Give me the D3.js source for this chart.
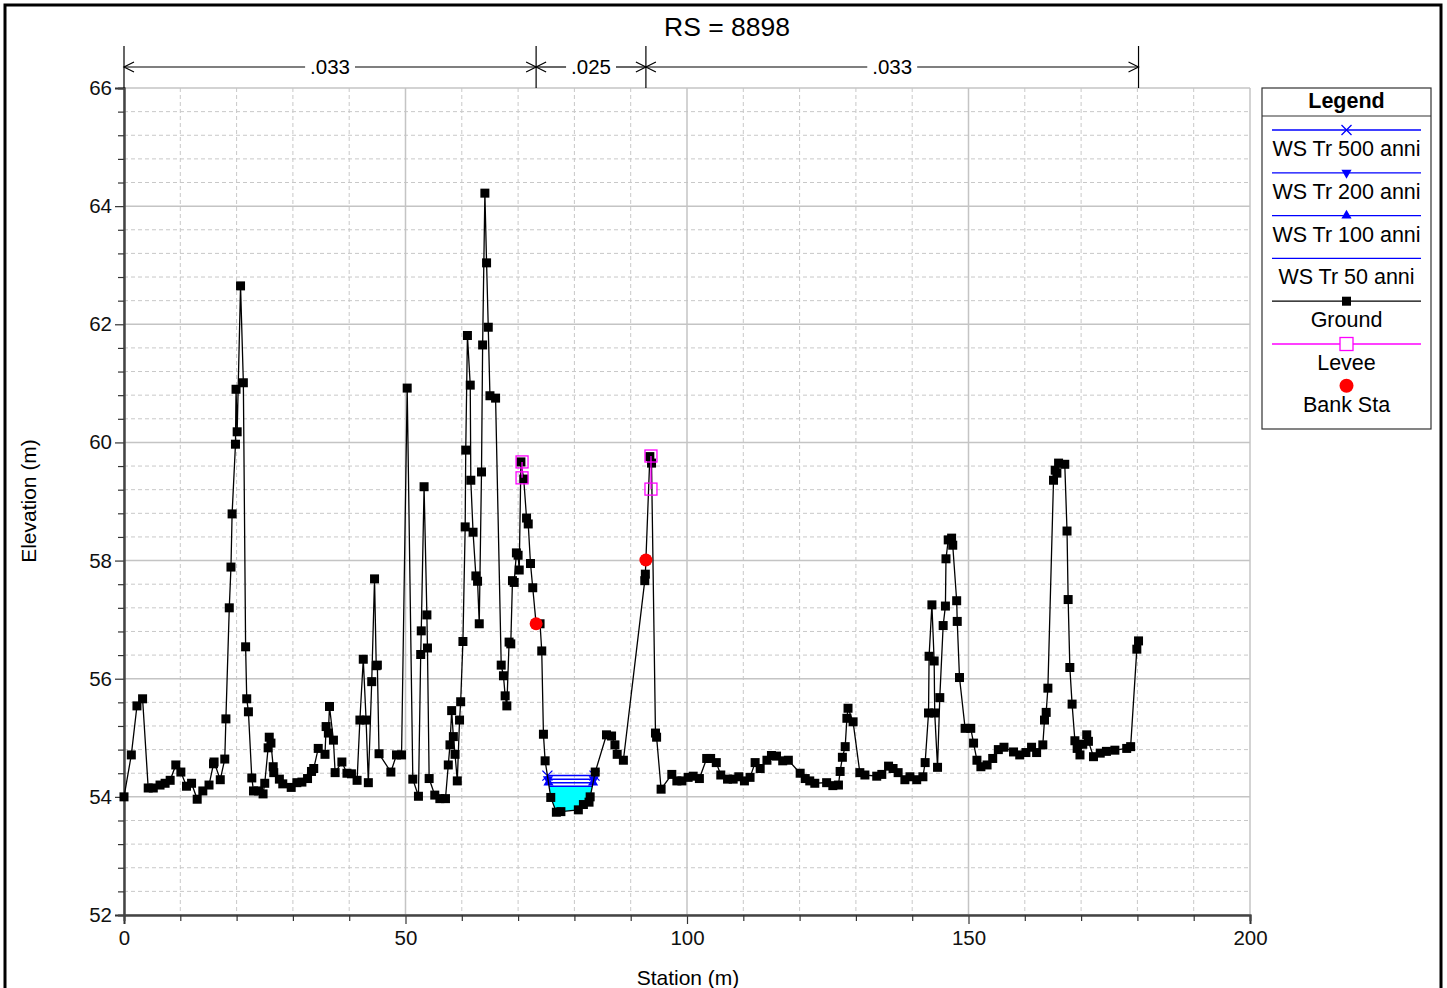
<!DOCTYPE html>
<html>
<head>
<meta charset="utf-8">
<script src="https://cdn.jsdelivr.net/npm/d3@7"></script>
<style>
  body { margin: 0; background: #fff; }
  svg { display: block; font-family: "Liberation Sans", Arial, sans-serif; }
</style>
</head>
<body>
<svg id="chart" width="1447" height="988"></svg>
<script>
// ---- data ----
const groundStation = [0,1.3,2.3,3.3,4.3,5.2,6.4,7.3,8.2,9.2,10.1,11.1,12.0,13.0,14.0,15.1,15.9,16.0,17.1,17.9,
  18.1,18.7,19.0,19.2,19.8,19.9,20.1,20.7,21.2,21.6,21.8,22.1,22.7,23.0,23.9,24.7,25.0,25.6,25.8,26.1,
  26.5,26.6,27.6,28.2,29.7,30.7,31.6,32.6,33.3,33.7,34.5,35.7,35.9,36.3,36.5,37.2,37.5,38.7,39.6,40.4,
  41.4,41.9,42.5,43.0,43.4,44.0,44.5,44.8,45.0,45.3,47.4,48.4,49.3,50.3,51.3,52.3,52.7,52.8,53.3,53.8,
  53.9,54.2,55.2,56.1,57.1,57.6,57.9,58.2,58.5,58.8,59.2,59.6,59.8,60.2,60.6,60.7,61.0,61.5,61.6,62.0,
  62.5,62.8,63.1,63.5,63.7,64.1,64.4,64.7,65.0,66.0,67.0,67.4,67.7,68.0,68.4,68.7,69.0,69.3,69.7,70.0,
  70.2,70.5,71.0,71.5,71.8,72.2,72.6,73.2,73.9,74.2,74.5,74.8,75.8,76.8,77.6,80.7,81.6,82.6,82.8,83.7,
  85.7,86.6,87.2,87.6,88.7,92.5,92.6,92.7,93.4,93.7,94.4,94.6,95.4,97.3,98.2,99.1,100.2,101.1,102.2,103.5,
  104.2,105.2,106.0,107.2,108.2,109.2,110.2,111.2,112.1,113.0,114.2,115.0,115.9,117.0,118.0,120.1,121.0,121.8,122.7,124.8,
  125.9,126.9,127.2,127.6,128.1,128.4,128.6,129.5,130.7,131.6,133.7,134.6,135.8,136.6,137.5,138.7,139.6,140.8,141.9,142.3,
  142.9,143.0,143.5,143.9,144.0,144.5,144.9,145.5,145.9,146.0,146.4,147.0,147.2,147.9,148.0,148.4,149.4,150.4,150.9,151.5,
  152.2,153.3,154.3,155.3,156.3,158.0,159.1,160.2,161.2,162.1,163.2,163.5,163.8,164.1,165.1,165.4,165.7,166.0,167.1,167.5,
  167.7,168.0,168.4,168.9,169.3,169.8,170.3,171.0,171.3,172.2,173.4,174.5,176.0,178.1,178.8,179.9,180.2];
const groundElev = [54.00,54.71,55.54,55.66,54.15,54.15,54.20,54.23,54.28,54.54,54.42,54.18,54.23,53.96,54.10,54.20,54.56,54.59,54.29,54.64,
  55.32,57.20,57.89,58.79,59.97,60.90,60.18,62.65,61.01,56.54,55.66,55.44,54.32,54.10,54.10,54.05,54.23,54.83,55.01,54.91,
  54.51,54.41,54.30,54.22,54.16,54.24,54.25,54.31,54.43,54.48,54.82,54.72,55.19,55.08,55.53,54.96,54.41,54.59,54.40,54.39,
  54.28,55.30,56.33,55.30,54.24,55.95,57.69,56.22,56.23,54.73,54.42,54.71,54.71,60.92,54.30,54.01,56.41,56.81,59.25,57.08,
  56.52,54.31,54.03,53.97,53.97,54.54,54.88,55.46,55.02,54.72,54.27,55.30,55.61,56.63,58.57,59.87,61.81,60.97,59.36,58.48,
  57.74,57.65,56.93,59.50,61.65,64.22,63.04,61.95,60.79,60.75,56.23,56.05,55.71,55.54,56.62,56.59,57.66,57.63,58.13,58.09,
  57.84,59.67,59.38,58.72,58.62,57.95,57.54,56.93,56.93,56.47,55.06,54.61,53.99,53.74,53.75,53.78,53.87,53.91,54.00,54.42,
  55.05,55.03,54.88,54.72,54.62,57.66,57.77,58.01,59.76,59.65,55.08,55.01,54.13,54.38,54.27,54.27,54.33,54.35,54.31,54.65,
  54.65,54.58,54.37,54.30,54.30,54.34,54.27,54.33,54.58,54.48,54.62,54.70,54.69,54.61,54.62,54.40,54.31,54.27,54.23,54.24,
  54.19,54.20,54.43,54.67,54.85,55.33,55.50,55.27,54.41,54.37,54.35,54.38,54.52,54.48,54.41,54.29,54.34,54.29,54.34,54.58,
  55.42,56.38,57.25,56.30,55.42,54.50,55.68,56.90,57.23,58.03,58.35,58.38,58.26,57.32,56.97,56.02,55.16,55.16,54.91,54.62,
  54.51,54.54,54.65,54.80,54.84,54.76,54.71,54.75,54.84,54.75,54.88,55.30,55.43,55.84,59.36,59.53,59.48,59.65,59.63,58.50,
  57.34,56.19,55.57,54.95,54.82,54.71,54.89,55.05,54.94,54.68,54.74,54.77,54.79,54.82,54.85,56.50,56.64];

const wsNames = ["WS Tr 500 anni", "WS Tr 200 anni", "WS Tr 100 anni", "WS Tr 50 anni"];
const wsElev = [54.36, 54.30, 54.24, 54.18];
const wsMarker = ["x", "down", "up", "none"];

const leveeStation = [70.7, 93.6];
const leveeTop = [59.67, 59.77];
const leveeLow = [59.40, 59.21];

const bankStation = [73.2, 92.7];
const bankElev = [56.93, 58.01];

const nBreaks = [0, 73.2, 92.7, 180.2];
const nValues = [".033", ".025", ".033"];

const xMajorTicks = [0, 50, 100, 150, 200];
const yMajorTicks = [52, 54, 56, 58, 60, 62, 64, 66];

// ---- layout ----
const svg = d3.select("#chart");
const L = 124, R = 1250, T = 88, B = 915;
const x = d3.scaleLinear().domain([0, 200]).range([L, R]);
const y = d3.scaleLinear().domain([52, 66]).range([B, T]);

// outer frame
svg.append("rect").attr("x", 5).attr("y", 5).attr("width", 1436).attr("height", 1000)
  .attr("fill", "none").attr("stroke", "#000").attr("stroke-width", 3);

// grid
const xMinor = d3.range(0, 201, 10).filter(v => v % 50 !== 0);
const yMinor = d3.range(52, 66.01, 0.4).filter(v => Math.abs(v / 2 - Math.round(v / 2)) > 0.01);
const grid = svg.append("g");
grid.selectAll(".xm").data(xMinor).enter().append("line")
  .attr("x1", d => x(d)).attr("x2", d => x(d)).attr("y1", T).attr("y2", B)
  .attr("stroke", "#c8c8c8").attr("stroke-dasharray", "4,3");
grid.selectAll(".ym").data(yMinor).enter().append("line")
  .attr("x1", L).attr("x2", R).attr("y1", d => y(d)).attr("y2", d => y(d))
  .attr("stroke", "#c8c8c8").attr("stroke-dasharray", "4,3");
grid.selectAll(".xM").data(xMajorTicks).enter().append("line")
  .attr("x1", d => x(d)).attr("x2", d => x(d)).attr("y1", T).attr("y2", B)
  .attr("stroke", "#c4c4c4").attr("stroke-width", 1.5);
grid.selectAll(".yM").data(yMajorTicks).enter().append("line")
  .attr("x1", L).attr("x2", R).attr("y1", d => y(d)).attr("y2", d => y(d))
  .attr("stroke", "#c4c4c4").attr("stroke-width", 1.5);

// axes
const xAxis = svg.append("g").attr("transform", `translate(0,${B})`)
  .call(d3.axisBottom(x).tickValues(xMajorTicks).tickSize(9).tickPadding(6).tickFormat(d3.format("d")));
const xAxisMinor = svg.append("g").attr("transform", `translate(0,${B})`)
  .call(d3.axisBottom(x).tickValues(xMinor).tickSize(6).tickFormat(""));
const yAxis = svg.append("g").attr("transform", `translate(${L},0)`)
  .call(d3.axisLeft(y).tickValues(yMajorTicks).tickSize(9).tickPadding(3).tickFormat(d3.format("d")));
const yAxisMinor = svg.append("g").attr("transform", `translate(${L},0)`)
  .call(d3.axisLeft(y).tickValues(yMinor).tickSize(6).tickFormat(""));
[xAxis, xAxisMinor, yAxis, yAxisMinor].forEach(a => {
  a.select(".domain").attr("stroke", "#444").attr("stroke-width", 2);
  a.selectAll(".tick line").attr("stroke", "#333").attr("stroke-width", 1.2);
  a.selectAll("text").attr("font-size", 20.5).attr("fill", "#111")
    .style("font-family", '"Liberation Sans", Arial, sans-serif');
});

// axis titles and title
svg.append("text").attr("x", 688).attr("y", 985).attr("text-anchor", "middle")
  .attr("font-size", 21).text("Station (m)");
svg.append("text").attr("transform", "translate(36,501) rotate(-90)").attr("text-anchor", "middle")
  .attr("font-size", 21).text("Elevation (m)");
svg.append("text").attr("x", 727).attr("y", 36).attr("text-anchor", "middle")
  .attr("font-size", 26.5).text("RS = 8898");

// Manning's n annotation
const nG = svg.append("g").attr("stroke", "#000").attr("stroke-width", 1.2).attr("fill", "none");
const nY = 67;
nBreaks.forEach(s => {
  nG.append("line").attr("x1", x(s)).attr("x2", x(s)).attr("y1", 46).attr("y2", T);
});
nValues.forEach((v, i) => {
  const a = x(nBreaks[i]), b = x(nBreaks[i + 1]), c = (a + b) / 2;
  const t = svg.append("text").attr("x", c).attr("y", nY + 7).attr("text-anchor", "middle")
    .attr("font-size", 20.5).text(v);
  const w = t.node().getComputedTextLength() / 2 + 5;
  nG.append("line").attr("x1", a).attr("x2", c - w).attr("y1", nY).attr("y2", nY);
  nG.append("line").attr("x1", c + w).attr("x2", b).attr("y1", nY).attr("y2", nY);
  nG.append("path").attr("d", `M${a + 10},${nY - 5}L${a},${nY}L${a + 10},${nY + 5}`);
  nG.append("path").attr("d", `M${b - 10},${nY - 5}L${b},${nY}L${b - 10},${nY + 5}`);
});

// water surface extents from ground crossing
const ground = groundStation.map((s, i) => [s, groundElev[i]]);
function wsExtent(z) {
  let lo = 0;
  ground.forEach((p, i) => {
    if (p[0] > bankStation[0] && p[0] < bankStation[1] && p[1] < ground[lo][1] || lo === 0 && p[0] > bankStation[0]) lo = i;
  });
  let i = lo; while (i > 0 && ground[i - 1][1] < z) i--;
  const a = ground[i - 1], b = ground[i];
  const sl = a[0] + (z - a[1]) / (b[1] - a[1]) * (b[0] - a[0]);
  let j = lo; while (j < ground.length - 1 && ground[j + 1][1] < z) j++;
  const c = ground[j], d = ground[j + 1];
  const sr = c[0] + (z - c[1]) / (d[1] - c[1]) * (d[0] - c[0]);
  return { sl, sr, i, j };
}

// water fill (lowest profile)
const lowest = wsExtent(wsElev[3]);
const fillPts = [[lowest.sl, wsElev[3]]].concat(ground.slice(lowest.i, lowest.j + 1), [[lowest.sr, wsElev[3]]]);
svg.append("path").datum(fillPts)
  .attr("d", d3.line().x(d => x(d[0])).y(d => y(d[1])).curve(d3.curveLinearClosed))
  .attr("fill", "#00ffff");

// WS lines and markers
const blue = "#0000ff";
const triUp = d3.symbol().type(d3.symbolTriangle).size(45);
function drawMarker(g, type, cx, cy) {
  if (type === "x") {
    g.append("path").attr("d", `M${cx - 5},${cy - 5}L${cx + 5},${cy + 5}M${cx - 5},${cy + 5}L${cx + 5},${cy - 5}`)
      .attr("stroke", blue).attr("stroke-width", 1.3).attr("fill", "none");
  } else if (type === "up") {
    g.append("path").attr("d", triUp()).attr("transform", `translate(${cx},${cy})`).attr("fill", blue);
  } else if (type === "down") {
    g.append("path").attr("d", triUp()).attr("transform", `translate(${cx},${cy}) rotate(180)`).attr("fill", blue);
  }
}
const wsG = svg.append("g");
wsElev.forEach((z, k) => {
  const e = wsExtent(z);
  wsG.append("line").attr("x1", x(e.sl)).attr("x2", x(e.sr)).attr("y1", y(z)).attr("y2", y(z))
    .attr("stroke", blue).attr("stroke-width", 1.5);
  drawMarker(wsG, wsMarker[k], x(e.sl), y(z));
  drawMarker(wsG, wsMarker[k], x(e.sr), y(z));
});

// ground
svg.append("path").datum(ground)
  .attr("d", d3.line().x(d => x(d[0])).y(d => y(d[1])))
  .attr("fill", "none").attr("stroke", "#000").attr("stroke-width", 1.3);
svg.append("g").selectAll("rect").data(ground).enter().append("rect")
  .attr("x", d => x(d[0]) - 4.5).attr("y", d => y(d[1]) - 4.5)
  .attr("width", 9).attr("height", 9).attr("fill", "#000");

// levees
const magenta = "#ff00ff";
leveeStation.forEach((s, i) => {
  svg.append("line").attr("x1", x(s)).attr("x2", x(s)).attr("y1", y(leveeTop[i])).attr("y2", y(leveeLow[i]))
    .attr("stroke", magenta).attr("stroke-width", 1.3);
  [leveeTop[i], leveeLow[i]].forEach(z => {
    svg.append("rect").attr("x", x(s) - 6).attr("y", y(z) - 6).attr("width", 12).attr("height", 12)
      .attr("fill", "none").attr("stroke", magenta).attr("stroke-width", 1.3);
  });
});

// bank stations
svg.append("g").selectAll("circle").data(bankStation).enter().append("circle")
  .attr("cx", d => x(d)).attr("cy", (d, i) => y(bankElev[i])).attr("r", 6.5).attr("fill", "#ff0000");

// legend
const lg = svg.append("g");
const lx = 1262, lw = 169, lcx = lx + lw / 2;
const fs = 21.5;
lg.append("rect").attr("x", lx).attr("y", 88).attr("width", lw).attr("height", 341)
  .attr("fill", "#fff").attr("stroke", "#333").attr("stroke-width", 1.2);
lg.append("text").attr("x", lcx).attr("y", 108).attr("text-anchor", "middle")
  .attr("font-size", fs).attr("font-weight", "bold").text("Legend");
lg.append("line").attr("x1", lx).attr("x2", lx + lw).attr("y1", 116).attr("y2", 116)
  .attr("stroke", "#333").attr("stroke-width", 1.2);
const rowH = 42.8;
wsNames.forEach((n, k) => {
  const ly = 130 + k * rowH;
  lg.append("line").attr("x1", lx + 10).attr("x2", lx + lw - 10).attr("y1", ly).attr("y2", ly)
    .attr("stroke", blue).attr("stroke-width", 1.3);
  drawMarker(lg, wsMarker[k], lcx, ly);
  lg.append("text").attr("x", lcx).attr("y", ly + 26).attr("text-anchor", "middle")
    .attr("font-size", fs).text(n);
});
let gy = 130 + 4 * rowH;
lg.append("line").attr("x1", lx + 10).attr("x2", lx + lw - 10).attr("y1", gy).attr("y2", gy)
  .attr("stroke", "#000").attr("stroke-width", 1.3);
lg.append("rect").attr("x", lcx - 4.5).attr("y", gy - 4.5).attr("width", 9).attr("height", 9).attr("fill", "#000");
lg.append("text").attr("x", lcx).attr("y", gy + 26).attr("text-anchor", "middle").attr("font-size", fs).text("Ground");
gy += rowH;
lg.append("line").attr("x1", lx + 10).attr("x2", lx + lw - 10).attr("y1", gy).attr("y2", gy)
  .attr("stroke", magenta).attr("stroke-width", 1.3);
lg.append("rect").attr("x", lcx - 6.5).attr("y", gy - 6.5).attr("width", 13).attr("height", 13)
  .attr("fill", "#fff").attr("stroke", magenta).attr("stroke-width", 1.3);
lg.append("text").attr("x", lcx).attr("y", gy + 26).attr("text-anchor", "middle").attr("font-size", fs).text("Levee");
gy += rowH;
lg.append("circle").attr("cx", lcx).attr("cy", gy - 1).attr("r", 7).attr("fill", "#ff0000");
lg.append("text").attr("x", lcx).attr("y", gy + 25).attr("text-anchor", "middle").attr("font-size", fs).text("Bank Sta");
</script>
</body>
</html>
